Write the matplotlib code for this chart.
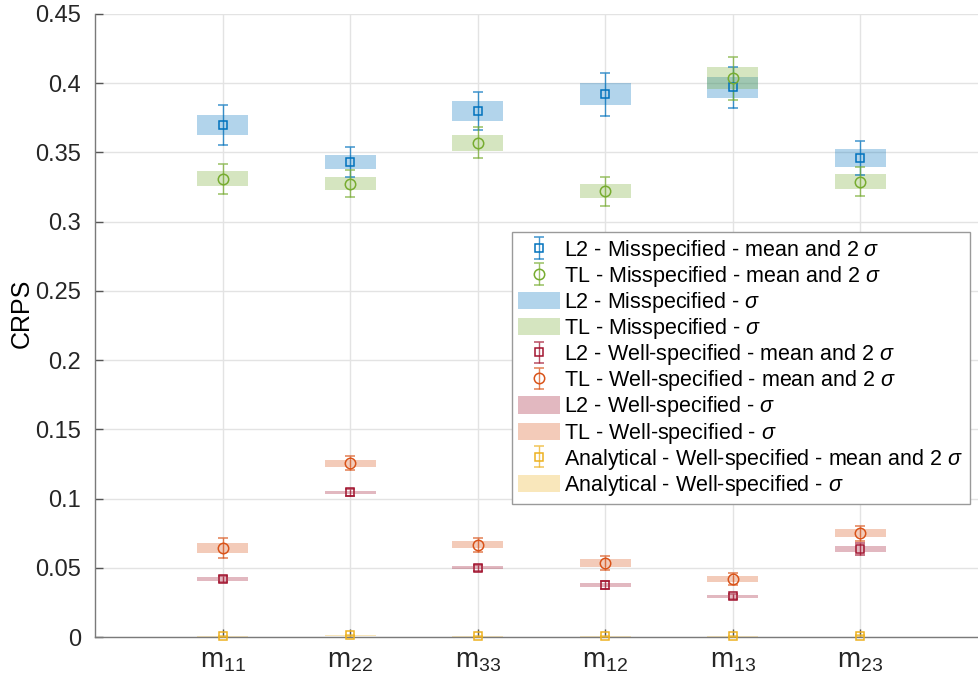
import numpy as np
import matplotlib
matplotlib.use('Agg')
import matplotlib.pyplot as plt
from matplotlib.patches import Patch

plt.rcParams['font.family'] = ['Liberation Sans', 'DejaVu Sans']
plt.rcParams['mathtext.fontset'] = 'custom'
plt.rcParams['mathtext.rm'] = 'Liberation Sans'
plt.rcParams['mathtext.it'] = 'Liberation Sans:italic'

# entries of the matrix
labels = ['m_{11}', 'm_{22}', 'm_{33}', 'm_{12}', 'm_{13}', 'm_{23}']

# mean CRPS and standard deviation per model
l2_mis_mean = [0.370, 0.343, 0.380, 0.392, 0.397, 0.346]
l2_mis_std = [0.0072, 0.0053, 0.0070, 0.0078, 0.0075, 0.0062]
tl_mis_mean = [0.331, 0.3275, 0.357, 0.322, 0.4035, 0.329]
tl_mis_std = [0.0054, 0.0048, 0.0056, 0.0052, 0.0079, 0.0052]
l2_well_mean = [0.0419, 0.1045, 0.0501, 0.0373, 0.0294, 0.0638]
l2_well_std = [0.0012, 0.0013, 0.0011, 0.0014, 0.0010, 0.0022]
tl_well_mean = [0.0645, 0.1255, 0.0665, 0.0535, 0.0419, 0.0751]
tl_well_std = [0.0036, 0.0025, 0.0025, 0.0026, 0.0021, 0.0027]
ana_mean = [0.0005, 0.0012, 0.0005, 0.0005, 0.0005, 0.0008]
ana_std = [0.0002, 0.0003, 0.0002, 0.0002, 0.0002, 0.0002]

c_blue = '#0072BD'
c_green = '#77AC30'
c_red = '#A2142F'
c_orange = '#D95319'
c_yellow = '#EDB120'

series = [
    ('L2 - Misspecified', l2_mis_mean, l2_mis_std, c_blue, 's', 6.0),
    ('TL - Misspecified', tl_mis_mean, tl_mis_std, c_green, 'o', 7.5),
    ('L2 - Well-specified', l2_well_mean, l2_well_std, c_red, 's', 6.0),
    ('TL - Well-specified', tl_well_mean, tl_well_std, c_orange, 'o', 7.5),
    ('Analytical - Well-specified', ana_mean, ana_std, c_yellow, 's', 6.0),
]

x = np.arange(1, len(labels) + 1)

fig = plt.figure(figsize=(9.79, 6.83), dpi=100)
ax = fig.add_axes([95 / 979, 46 / 683, 893 / 979, 623 / 683])

handles = []
names = []
for name, mean, std, col, mk, ms in series:
    mean = np.array(mean)
    std = np.array(std)
    # +/- sigma box
    ax.bar(x, 2 * std, bottom=mean - std, width=0.4, color=col,
           alpha=0.3, linewidth=0, zorder=2)
    # mean with 2 sigma bars
    eb = ax.errorbar(x, mean, yerr=2 * std, fmt=mk, ms=ms, mfc='none',
                     mec=col, mew=1.1, ecolor=col, elinewidth=1.0,
                     capsize=3.3, capthick=1.0, zorder=3, clip_on=False)
    for art in eb.lines[1] + eb.lines[2]:
        art.set_alpha(0.75)
    patch = Patch(facecolor=col, alpha=0.3, edgecolor='none')
    handles += [eb, patch]
    names += [name + r' - mean and 2 $\sigma$', name + r' - $\sigma$']

# legend order: errorbars of one group, then their sigma boxes
order = [0, 2, 1, 3, 4, 6, 5, 7, 8, 9]
leg = ax.legend([handles[i] for i in order], [names[i] for i in order],
                loc='upper left', bbox_to_anchor=(417 / 893, 405 / 623),
                fontsize=15.5, frameon=True, fancybox=False, framealpha=1,
                edgecolor='#9a9a9a', handlelength=1.95, handleheight=0.85,
                handletextpad=0.2, labelspacing=0.05, borderpad=0.28,
                borderaxespad=0)
leg.get_frame().set_linewidth(1.0)

ax.set_xlim(0, 7)
ax.set_ylim(0, 0.45)
ax.set_xticks(x)
ax.set_xticklabels(['$\\mathregular{' + s + '}$' for s in labels], fontsize=20)
ax.set_yticks(np.arange(0, 0.451, 0.05))
ax.set_yticklabels(['%g' % round(v, 2) for v in np.arange(0, 0.451, 0.05)],
                   fontsize=17)
ax.set_ylabel('CRPS', fontsize=18)
ax.yaxis.set_label_coords(-0.069, (637 - 313) / 623)

ax.grid(True, color='#e3e3e3', linewidth=1.0, zorder=0)
ax.set_axisbelow(True)
ax.tick_params(direction='in', length=6, width=1, color='#555555',
               labelcolor='#262626')
ax.tick_params(axis='y', pad=10)
ax.tick_params(axis='x', pad=8)
ax.spines['top'].set_visible(False)
ax.spines['right'].set_visible(False)
for s in ['left', 'bottom']:
    ax.spines[s].set_color('#7a7a7a')
    ax.spines[s].set_linewidth(1.0)

fig.savefig('out.png', dpi=100)
